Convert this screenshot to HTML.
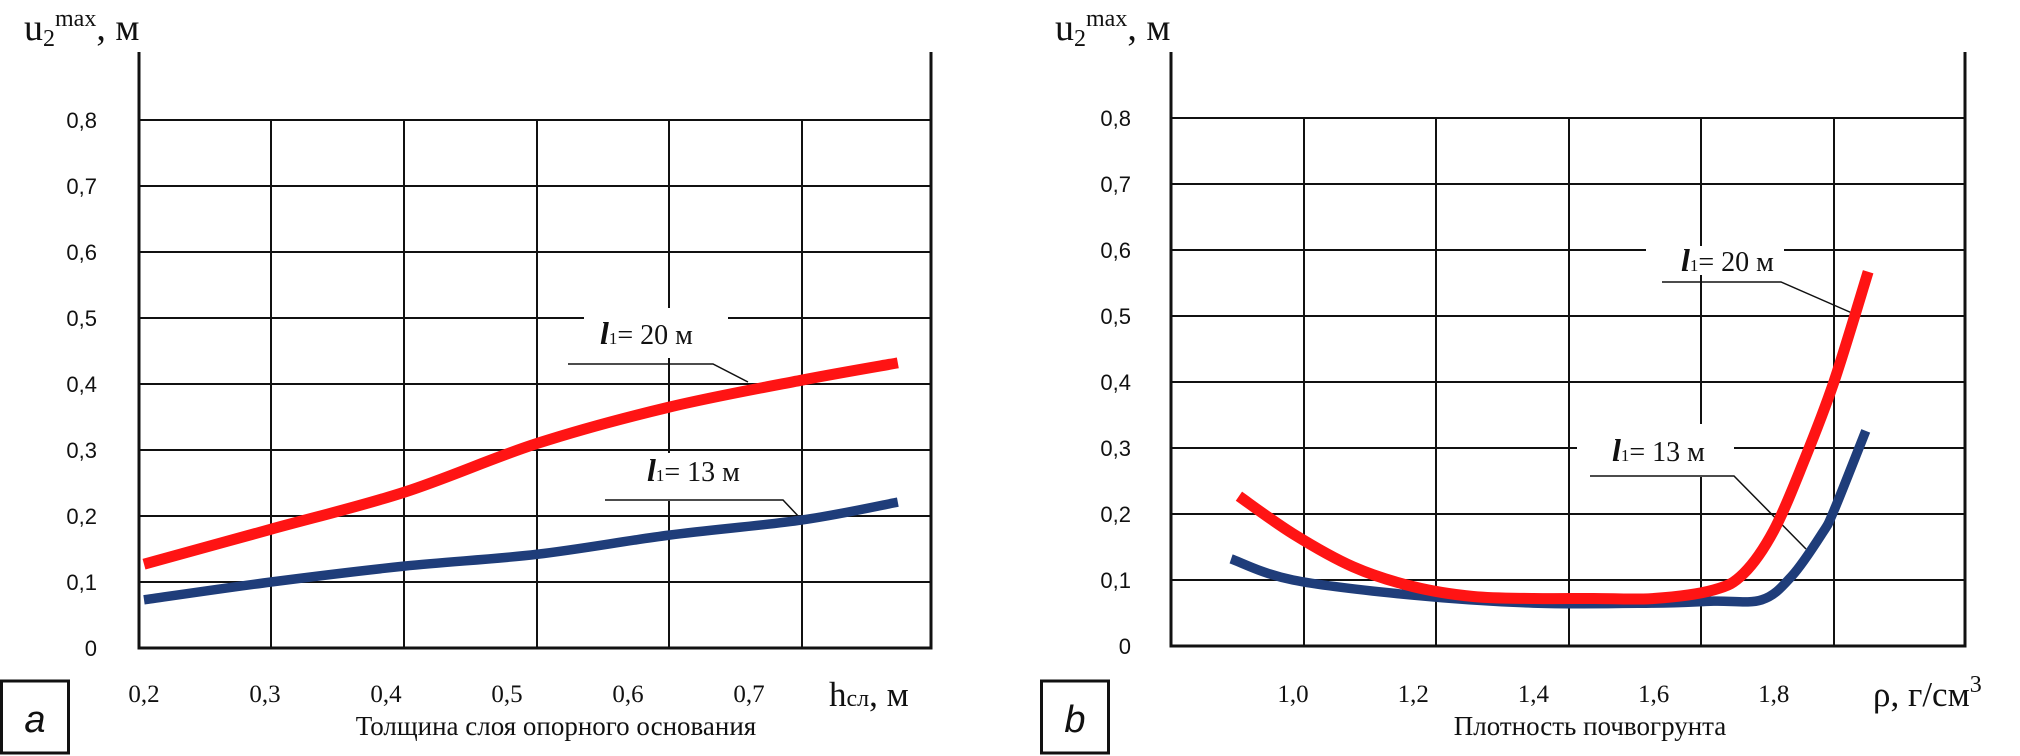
<!DOCTYPE html>
<html><head><meta charset="utf-8"><style>
html,body{margin:0;padding:0;background:#fff;}
svg{display:block;}
.yl{font-family:"Liberation Sans",sans-serif;font-size:22px;fill:#111;}
.xl{font-family:"Liberation Serif",serif;font-size:25px;fill:#111;}
.tt{font-family:"Liberation Serif",serif;fill:#111;}
</style></head><body>
<svg id="chart" width="2020" height="756" viewBox="0 0 2020 756" xmlns="http://www.w3.org/2000/svg"></svg>
<script>
// ---- data: chart a ----
const aYTicks=["0","0,1","0,2","0,3","0,4","0,5","0,6","0,7","0,8"];
const aXTicks=["0,2","0,3","0,4","0,5","0,6","0,7"];
const aRedX=[0.2,0.305,0.415,0.525,0.634,0.744,0.823];
const aRedY=[0.127,0.18,0.236,0.31,0.365,0.406,0.432];
const aBlueX=[0.2,0.305,0.415,0.525,0.634,0.744,0.823];
const aBlueY=[0.073,0.10,0.124,0.142,0.171,0.194,0.221];
// ---- data: chart b ----
const bYTicks=["0","0,1","0,2","0,3","0,4","0,5","0,6","0,7","0,8"];
const bXTicks=["1,0","1,2","1,4","1,6","1,8"];
const bRedX=[0.91,1.0,1.1,1.2,1.3,1.4,1.5,1.6,1.7,1.75,1.8,1.85,1.9,1.957];
const bRedY=[0.227,0.17,0.12,0.09,0.075,0.072,0.072,0.072,0.085,0.11,0.175,0.28,0.40,0.567];
const bBlueX=[0.897,1.0,1.2,1.4,1.6,1.7,1.78,1.83,1.88,1.9,1.953];
const bBlueY=[0.132,0.1,0.077,0.065,0.065,0.068,0.07,0.106,0.17,0.205,0.326];

const NS="http://www.w3.org/2000/svg";
const svg=document.getElementById('chart');
function mk(tag,attrs,parent){const e=document.createElementNS(NS,tag);for(const k in attrs)e.setAttribute(k,attrs[k]);(parent||svg).appendChild(e);return e;}
function smooth(pts){let d="M"+pts[0][0]+","+pts[0][1];for(let i=0;i<pts.length-1;i++){const p0=pts[i-1]||pts[i],p1=pts[i],p2=pts[i+1],p3=pts[i+2]||p2;const c1=[p1[0]+(p2[0]-p0[0])/6,p1[1]+(p2[1]-p0[1])/6],c2=[p2[0]-(p3[0]-p1[0])/6,p2[1]-(p3[1]-p1[1])/6];d+=" C"+c1.join(",")+" "+c2.join(",")+" "+p2.join(",");}return d;}

function panel(cfg){
  const g=mk('g',{});
  
  
  const yv=v=>cfg.y0-v*660;
  const xv=v=>cfg.xl0+(v-cfg.xv0)*cfg.xs;
  for(let i=1;i<cfg.yTicks.length;i++){const l=mk('line',{x1:cfg.ax,x2:cfg.rx,y1:yv(i*0.1),y2:yv(i*0.1),stroke:'#111','stroke-width':2},g);
    
    }
  cfg.vgrid.forEach(x=>{const l=mk('line',{x1:x,x2:x,y1:yv(0.8),y2:cfg.y0,stroke:'#111','stroke-width':2},g);
    
    });
  cfg.gaps.forEach(r=>mk('rect',{x:r[0],y:r[1],width:r[2],height:r[3],fill:'#fff'},g));
  const ya=mk('line',{x1:cfg.ax,x2:cfg.ax,y1:52,y2:cfg.y0+1.5,stroke:'#111','stroke-width':3},g);
  
  
  const xa=mk('line',{x1:cfg.ax,x2:cfg.rx,y1:cfg.y0,y2:cfg.y0,stroke:'#111','stroke-width':3},g);
  
  
  const rb=mk('line',{x1:cfg.rx,x2:cfg.rx,y1:52,y2:cfg.y0+1.5,stroke:'#111','stroke-width':3},g);
  
  
  cfg.yTicks.forEach((t,i)=>{const e=mk('text',{x:cfg.ylx,y:yv(i*0.1)+8,'text-anchor':'end',class:'yl'},g);e.textContent=t;
    
    });
  cfg.xTicks.forEach((t,i)=>{const e=mk('text',{x:xv(cfg.xv0+i*cfg.xstep),y:702,'text-anchor':'middle',class:'xl'},g);e.textContent=t;
    
    });
  cfg.leaders.forEach(p=>{const l=mk('polyline',{points:p.map(q=>q.join(',')).join(' '),fill:'none',stroke:'#111','stroke-width':1.5},g);
    
    });
  const blue=mk('path',{d:smooth(cfg.bX.map((x,i)=>[xv(x),yv(cfg.bY[i])])),fill:'none',stroke:'#1f3d7a','stroke-width':9.5,'stroke-linecap':'butt'},g);
  
  
  const red=mk('path',{d:smooth(cfg.rX.map((x,i)=>[xv(x),yv(cfg.rY[i])])),fill:'none',stroke:'#ff1414','stroke-width':11,'stroke-linecap':'butt'},g);
  
  
  cfg.labels.forEach(L=>{const e=mk('text',{x:L[0],y:L[1],class:'tt','font-size':28},g);
    e.innerHTML='<tspan font-style="italic" font-weight="bold" font-size="32">l</tspan><tspan font-size="17">1</tspan>= '+L[2]+' м';
    
    });
  const t=mk('text',{x:cfg.tx,y:40,class:'tt','font-size':38},g);
  t.innerHTML='u<tspan font-size="24" dy="6">2</tspan><tspan font-size="24" dy="-20">max</tspan><tspan dy="14">, м</tspan>';
  
  
  const xt=mk('text',{x:cfg.xtx,y:706,class:'tt','font-size':35},g);
  xt.innerHTML=cfg.xtitle;
  
  
  const cap=mk('text',{x:cfg.capx,y:735,'text-anchor':'middle',class:'tt','font-size':27},g);
  cap.textContent=cfg.caption;
  
  
  const box=mk('rect',{x:cfg.bx+1.5,y:681,width:67,height:72,fill:'#fff',stroke:'#111','stroke-width':3},g);
  
  
  const bl=mk('text',{x:cfg.bx+35,y:732,'text-anchor':'middle','font-family':'Liberation Sans,sans-serif','font-style':'italic','font-size':38,fill:'#111'},g);
  bl.textContent=cfg.letter;
  
  
}

panel({name:'chart-a',ax:139,rx:931,y0:648,xl0:144,xv0:0.2,xs:1210,xstep:0.1,ylx:97,
  vgrid:[271,404,537,669,802],yTicks:aYTicks,xTicks:aXTicks,rX:aRedX,rY:aRedY,bX:aBlueX,bY:aBlueY,
  gaps:[[584,312,144,10],[664,308,10,50],[664,453,10,48]],
  leaders:[[[568,364],[713,364],[748,382]],[[605,500],[783,500],[800,518]]],
  labels:[[600,344,'20'],[647,481,'13']],
  tx:24,xtitle:'h<tspan font-size="24">сл</tspan>, м',xtx:829,caption:'Толщина слоя опорного основания',capx:556,bx:0,letter:'a'});
panel({name:'chart-b',ax:1171,rx:1965,y0:646,xl0:1293,xv0:1.0,xs:601,xstep:0.2,ylx:1131,
  vgrid:[1304,1436,1569,1701,1834],yTicks:bYTicks,xTicks:bXTicks,rX:bRedX,rY:bRedY,bX:bBlueX,bY:bBlueY,
  gaps:[[1646,246,138,10],[1577,445,157,10],[1696,424,10,53],[1696,250,10,25]],
  leaders:[[[1662,282],[1781,282],[1852,313]],[[1590,476],[1734,476],[1806,549]]],
  labels:[[1681,271,'20'],[1612,461,'13']],
  tx:1055,xtitle:'ρ, г/см<tspan font-size="24" dy="-14">3</tspan>',xtx:1873,caption:'Плотность почвогрунта',capx:1590,bx:1040,letter:'b'});
</script>
</body></html>
